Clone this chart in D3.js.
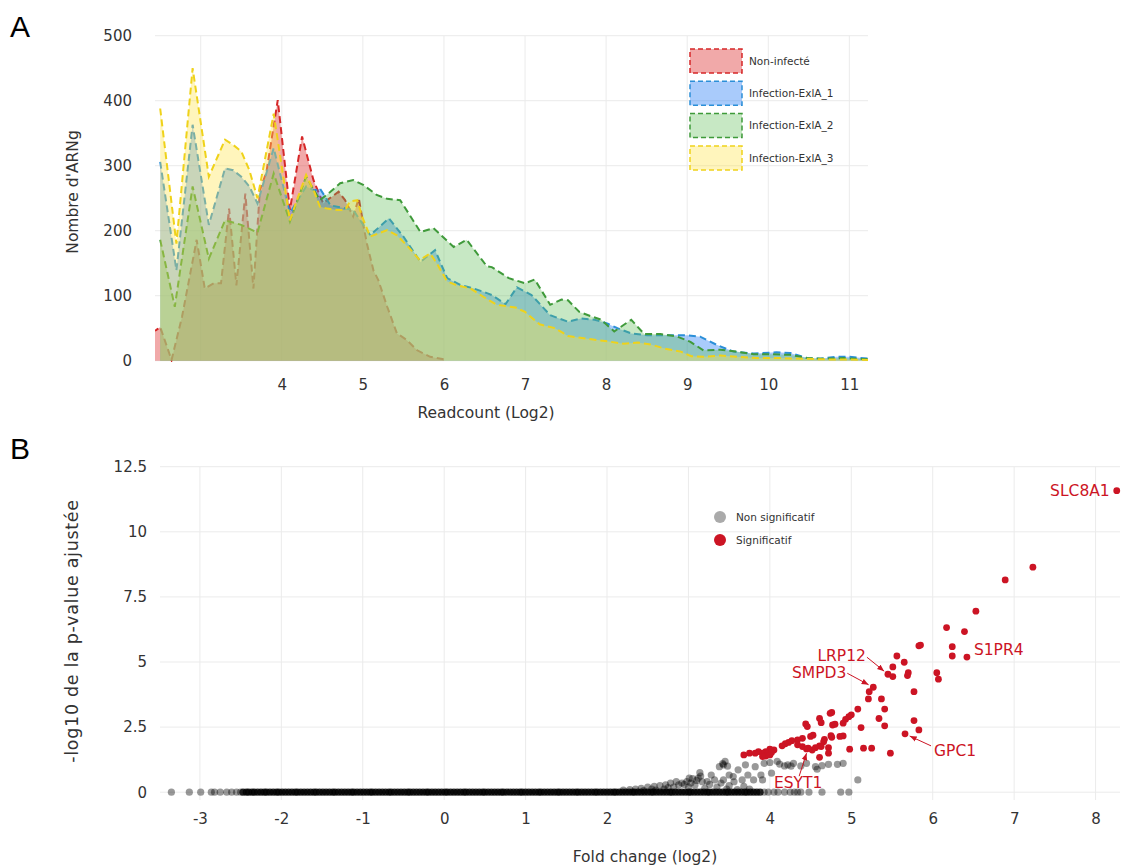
<!DOCTYPE html>
<html>
<head>
<meta charset="utf-8">
<script src="https://d3js.org/d3.v7.min.js"></script>
<style>
body { margin: 0; background: #fff; }
svg text { font-family: "DejaVu Sans", Verdana, sans-serif; fill: #333; }
</style>
</head>
<body>
<svg id="chart" width="1126" height="867"></svg>
<script>
// ---- panel A : distribution of read counts (log2) ----
var readGrid = [3, 4, 5, 6, 7, 8, 9, 10, 11];
var readTicks = [4, 5, 6, 7, 8, 9, 10, 11];
var countTicks = [0, 100, 200, 300, 400, 500];
var sampleNames = ["Non-infecté", "Infection-ExlA_1", "Infection-ExlA_2", "Infection-ExlA_3"];

var nonInfecte = [[2.40,45],[2.45,47],[2.50,52],[2.64,1],[2.77,68],[2.95,186],[3.05,111],[3.16,119],[3.25,119],
  [3.35,234],[3.44,116],[3.55,257],[3.65,111],[3.73,263],[3.81,290],[3.95,401],[4.10,232],[4.25,345],[4.39,278],
  [4.51,242],[4.56,247],[4.70,260],[4.78,247],[4.88,222],[4.95,250],[5.01,206],[5.05,180],[5.13,139],[5.19,124],
  [5.30,83],[5.42,42],[5.54,32],[5.67,16],[5.83,6],[6.0,2]];

var exla1 = [[2.50,306],[2.70,139],[2.90,363],[3.10,209],[3.30,296],[3.40,293],[3.50,283],[3.60,268],[3.70,242],
  [3.90,327],[4.10,227],[4.30,268],[4.40,262],[4.47,265],[4.60,239],[4.88,232],[5.09,193],[5.32,219],[5.50,191],
  [5.71,152],[5.89,170],[6.04,127],[6.21,116],[6.37,111],[6.53,104],[6.59,101],[6.76,87],[6.90,113],[7.08,101],
  [7.31,70],[7.53,60],[7.69,65],[7.86,63],[8.02,57],[8.14,50],[8.31,42],[8.51,39],[8.80,39],[9.0,39],[9.16,37],
  [9.37,24],[9.57,14],[9.82,11],[10.1,13],[10.27,12],[10.48,4],[10.64,3],[10.84,6],[11.0,6],[11.25,3]];

var exla2 = [[2.50,186],[2.68,83],[2.90,268],[3.10,157],[3.30,216],[3.50,209],[3.70,197],[3.90,288],[4.10,214],
  [4.30,283],[4.47,247],[4.60,260],[4.72,273],[4.88,278],[5.01,270],[5.17,255],[5.30,249],[5.46,247],[5.71,198],
  [5.87,204],[6.12,175],[6.28,186],[6.53,145],[6.59,144],[6.80,127],[7.0,119],[7.12,125],[7.31,86],[7.45,94],
  [7.53,93],[7.67,75],[7.82,68],[7.94,63],[8.10,45],[8.31,63],[8.47,41],[8.67,41],[8.88,37],[9.04,29],[9.2,16],
  [9.41,17],[9.61,14],[9.82,10],[10.02,10],[10.27,9],[10.48,4],[10.68,3],[10.93,4],[11.25,2]];

var exla3 = [[2.50,388],[2.70,180],[2.90,450],[3.10,283],[3.30,340],[3.40,332],[3.50,322],[3.60,293],[3.70,250],
  [3.90,380],[4.10,216],[4.20,252],[4.30,286],[4.40,260],[4.47,237],[4.56,234],[4.68,232],[4.78,232],[4.84,245],
  [4.93,247],[4.99,222],[5.09,191],[5.30,201],[5.42,193],[5.56,175],[5.70,155],[5.83,165],[5.91,150],[6.04,122],
  [6.16,116],[6.33,111],[6.49,98],[6.65,86],[6.88,82],[7.0,75],[7.18,56],[7.37,50],[7.53,38],[7.82,33],[8.06,29],
  [8.22,26],[8.39,28],[8.55,25],[8.71,19],[8.92,14],[9.05,7],[9.2,6],[9.41,8],[9.61,6],[9.86,4],[10.15,4],
  [10.43,3],[10.72,2],[11.0,2],[11.25,1]];

// ---- panel B : volcano plot ----
var fcGrid = [-3, -2, -1, 0, 1, 2, 3, 4, 5, 6, 7, 8];
var pTicks = [0, 2.5, 5, 7.5, 10, 12.5];
var legendB = ["Non significatif", "Significatif"];

// genes sitting on the baseline (p-value ~ 1)
var baseFC = [-2.47,-2.43,-2.40,-2.36,-2.33,-2.29,-2.25,-2.21,-2.18,-2.14,-2.10,-2.06,-2.03,-1.99,-1.95,-1.91,
  -1.87,-1.83,-1.80,-1.76,-1.72,-1.68,-1.64,-1.60,-1.57,-1.53,-1.49,-1.45,-1.41,-1.37,-1.34,-1.30,-1.26,-1.22,
  -1.18,-1.14,-1.11,-1.07,-1.03,-0.99,-0.95,-0.91,-0.88,-0.84,-0.80,-0.76,-0.72,-0.68,-0.65,-0.61,-0.57,-0.53,
  -0.49,-0.45,-0.42,-0.38,-0.34,-0.30,-0.26,-0.22,-0.19,-0.15,-0.11,-0.07,-0.03,0.01,0.04,0.08,0.12,0.16,0.20,
  0.24,0.27,0.31,0.35,0.39,0.43,0.47,0.50,0.54,0.58,0.62,0.66,0.70,0.73,0.77,0.81,0.85,0.89,0.93,0.96,1.00,1.04,
  1.08,1.12,1.16,1.19,1.23,1.27,1.31,1.35,1.39,1.42,1.46,1.50,1.54,1.58,1.62,1.65,1.69,1.73,1.77,1.81,1.85,1.88,
  1.92,1.96,2.00,2.04,2.08,2.11,2.15,2.19,2.23,2.27,2.31,2.34,2.38,2.42,2.46,2.50,2.54,2.57,2.61,2.65,2.69,2.73,
  2.77,2.80,2.84,2.88,2.92,2.96,3.00,3.03,3.07,3.11,3.15,3.19,3.23,3.26,3.30,3.34,3.38,3.42,3.46,3.49,3.53,3.57,
  3.61,3.65,3.69,3.72,3.76,3.80,3.84,3.88];

// other non significant genes [fold change, -log10 padj]
var nonSig = [[-3.35,0],[-3.13,0],[-2.99,0],[-2.86,0],[-2.82,0],[-2.75,0],[-2.67,0],[-2.61,0],[-2.55,0],[-2.50,0],
  [3.93,0],[3.98,0],[4.05,0],[4.10,0],[4.18,0],[4.25,0],[4.30,0],[4.34,0],[4.38,0],[4.48,0],[4.64,0],[4.87,0],[4.97,0],
  [5.08,0.47],[4.90,1.11],[4.83,1.07],[4.72,1.07],[4.58,0.88],[4.45,1.11],[4.38,1.01],[4.29,1.11],[4.22,1.05],
  [4.18,1.01],[4.09,1.18],[4.00,1.14],[3.93,1.11],[4.02,0.73],[3.91,0.47],[3.89,0.66],[3.80,0.47],[3.82,0.98],
  [3.73,0.66],[3.66,0.47],[3.61,0.86],[3.70,1.05],[3.55,0.60],[3.50,0.66],[3.43,0.47],[3.43,1.05],[3.45,1.18],
  [3.38,0.98],[3.32,0.47],[3.28,0.66],[3.23,0.41],[3.14,0.75],[3.12,0.54],[3.01,0.54],[2.98,0.41],[3.03,0.35],
  [2.92,0.35],[2.85,0.41],[2.78,0.35],[2.72,0.28],[2.65,0.25],[2.58,0.22],[2.50,0.20],[2.42,0.15],[2.35,0.12],
  [2.28,0.10],[2.20,0.08],[3.10,0.45],[3.05,0.52],[2.95,0.30],[2.88,0.28],[3.35,0.20],[3.50,0.25],[3.60,0.10],
  [3.20,0.15],[2.70,0.12],[2.60,0.08],[3.00,0.20],[3.15,0.62],[3.17,0.40],[3.08,0.28],[2.82,0.20],[2.75,0.18],
  [2.55,0.12],[2.45,0.06],[3.26,0.30],[3.40,0.35],[3.47,0.12],[3.56,0.40],[3.68,0.22],[3.75,0.12],[3.42,1.10],
  [3.48,1.00],[4.12,1.08],[4.26,1.00],[4.56,0.98],[4.64,1.02]];

var sig = [[8.26,11.58],[7.23,8.64],[6.89,8.15],[6.53,6.95],[6.17,6.32],[6.39,6.17],[5.83,5.62],[5.85,5.65],
  [6.24,5.59],[6.24,5.23],[6.42,5.19],[5.56,5.23],[5.65,4.99],[5.51,4.81],[5.45,4.53],[5.51,4.44],[5.70,4.59],
  [5.69,4.48],[6.05,4.59],[6.07,4.34],[5.77,3.86],[5.27,4.03],[5.22,3.86],[5.21,3.58],[5.37,3.58],[5.41,3.19],
  [5.34,2.83],[5.41,2.55],[5.77,2.75],[5.83,2.39],[5.66,2.24],[5.48,1.50],[5.08,3.19],[5.00,2.97],[4.97,2.90],
  [4.93,2.80],[4.90,2.65],[4.74,3.03],[4.76,3.06],[4.61,2.83],[4.63,2.67],[4.77,2.58],[4.80,2.61],[4.44,2.62],
  [4.46,2.52],[5.12,2.48],[4.90,2.16],[4.86,2.14],[4.75,2.17],[4.76,2.11],[4.53,2.19],[4.50,2.14],[4.67,2.03],
  [4.66,1.94],[4.61,1.78],[4.63,1.75],[4.72,1.71],[4.98,1.65],[5.15,1.69],[5.25,1.69],[4.72,1.50],[4.61,1.34],
  [4.40,2.07],[4.34,2.01],[4.27,1.98],[4.23,1.91],[4.19,1.86],[4.15,1.78],[4.34,1.82],[4.40,1.75],[4.45,1.66],
  [4.52,1.62],[4.56,1.71],[4.47,1.69],[4.05,1.62],[4.00,1.65],[3.95,1.56],[3.91,1.50],[3.86,1.56],[3.82,1.50],
  [3.75,1.50],[3.68,1.43],[3.95,1.39],[4.00,1.43],[3.91,1.37],[4.02,1.52]];

var labelGenes = ["SLC8A1", "S1PR4", "LRP12", "SMPD3", "GPC1", "ESYT1"];
var labelFC = [8.26, 6.42, 5.45, 5.27, 5.66, 4.47];
var labelP = [11.58, 5.19, 4.53, 4.03, 2.24, 1.69];

var svg = d3.select('#chart');
var fillCols = ['rgba(220,40,40,0.4)', 'rgba(40,125,245,0.4)', 'rgba(95,190,85,0.35)', 'rgba(255,230,80,0.38)'];
var lineCols = ['#d62728', '#2b8fd8', '#3f9a3a', '#efd21a'];
var red = '#cc1424';

svg.append('defs').append('clipPath').attr('id', 'clipA')
    .append('rect').attr('x', 155).attr('y', 30).attr('width', 713).attr('height', 332);

/* ---------- panel A ---------- */
var xA = d3.scaleLinear().domain([2.436, 11.23]).range([155, 868]);
var yA = d3.scaleLinear().domain([0, 500]).range([360.7, 35.7]);

var gA = svg.append('g');
gA.append('g').selectAll('line').data(readGrid).enter().append('line')
    .attr('x1', function(d) { return xA(d); }).attr('x2', function(d) { return xA(d); })
    .attr('y1', yA(500)).attr('y2', yA(0))
    .attr('stroke', '#ebebeb');
gA.append('g').selectAll('line').data(countTicks).enter().append('line')
    .attr('x1', 155).attr('x2', 868)
    .attr('y1', function(d) { return yA(d); }).attr('y2', function(d) { return yA(d); })
    .attr('stroke', '#ebebeb');

var area = d3.area().x(function(d) { return xA(d[0]); }).y0(yA(0)).y1(function(d) { return yA(d[1]); });
var line = d3.line().x(function(d) { return xA(d[0]); }).y(function(d) { return yA(d[1]); });
var series = [nonInfecte, exla1, exla2, exla3];
var plotA = gA.append('g').attr('clip-path', 'url(#clipA)');
series.forEach(function(s, i) {
    plotA.append('path').attr('d', area(s)).attr('fill', fillCols[i]);
    plotA.append('path').attr('d', line(s)).attr('fill', 'none')
        .attr('stroke', lineCols[i]).attr('stroke-width', 2).attr('stroke-dasharray', '7,4');
});

var axA = gA.append('g').attr('transform', 'translate(0,' + yA(0) + ')')
    .call(d3.axisBottom(xA).tickValues(readTicks).tickSize(0).tickPadding(19).tickFormat(function(d) { return d; }));
var ayA = gA.append('g').attr('transform', 'translate(155,0)')
    .call(d3.axisLeft(yA).tickValues(countTicks).tickSize(0).tickPadding(23));
[axA, ayA].forEach(function(a) {
    a.select('.domain').remove();
    a.selectAll('text').style('font-size', '15px').attr('fill', '#333');
});

gA.append('text').attr('x', 486).attr('y', 418).attr('text-anchor', 'middle')
    .style('font-size', '15.5px').text('Readcount (Log2)');
gA.append('text').attr('transform', 'translate(78,192) rotate(-90)').attr('text-anchor', 'middle')
    .style('font-size', '15.5px').text("Nombre d'ARNg");

// legend A
var legA = gA.append('g').selectAll('g').data(sampleNames).enter().append('g')
    .attr('transform', function(d, i) { return 'translate(690,' + (49 + i * 32.3) + ')'; });
legA.append('rect').attr('width', 52).attr('height', 24)
    .attr('fill', function(d, i) { return fillCols[i]; })
    .attr('stroke', function(d, i) { return lineCols[i]; })
    .attr('stroke-width', 1.5).attr('stroke-dasharray', '5,3');
legA.append('text').attr('x', 59).attr('y', 12).attr('dy', '0.35em')
    .style('font-size', '10.5px').text(function(d) { return d; });

/* ---------- panel B ---------- */
var xB = d3.scaleLinear().domain([-3.49, 8.3]).range([160, 1120]);
var yB = d3.scaleLinear().domain([-0.3, 12.5]).range([800, 466.7]);

var gB = svg.append('g');
gB.append('g').selectAll('line').data(fcGrid).enter().append('line')
    .attr('x1', function(d) { return xB(d); }).attr('x2', function(d) { return xB(d); })
    .attr('y1', yB(12.5)).attr('y2', 800)
    .attr('stroke', '#ebebeb');
gB.append('g').selectAll('line').data(pTicks).enter().append('line')
    .attr('x1', 160).attr('x2', 1120)
    .attr('y1', function(d) { return yB(d); }).attr('y2', function(d) { return yB(d); })
    .attr('stroke', '#ebebeb');

gB.append('g').selectAll('circle').data(baseFC).enter().append('circle')
    .attr('cx', function(d) { return xB(d); }).attr('cy', yB(0)).attr('r', 3.6)
    .attr('fill', '#000').attr('fill-opacity', 0.8);
gB.append('g').selectAll('circle').data(nonSig).enter().append('circle')
    .attr('cx', function(d) { return xB(d[0]); }).attr('cy', function(d) { return yB(d[1]); }).attr('r', 3.6)
    .attr('fill', '#000').attr('fill-opacity', 0.4);
gB.append('g').selectAll('circle').data(sig).enter().append('circle')
    .attr('cx', function(d) { return xB(d[0]); }).attr('cy', function(d) { return yB(d[1]); }).attr('r', 3.4)
    .attr('fill', red);

var axB = gB.append('g').attr('transform', 'translate(0,800)')
    .call(d3.axisBottom(xB).tickValues(fcGrid).tickSize(0).tickPadding(13).tickFormat(function(d) { return String(d); }));
var ayB = gB.append('g').attr('transform', 'translate(160,0)')
    .call(d3.axisLeft(yB).tickValues(pTicks).tickSize(0).tickPadding(13).tickFormat(function(d) { return String(d); }));
[axB, ayB].forEach(function(a) {
    a.select('.domain').remove();
    a.selectAll('text').style('font-size', '15px').attr('fill', '#333');
});

gB.append('text').attr('x', 645).attr('y', 862).attr('text-anchor', 'middle')
    .style('font-size', '15.5px').text('Fold change (log2)');
gB.append('text').attr('transform', 'translate(78,631) rotate(-90)').attr('text-anchor', 'middle')
    .style('font-size', '17.5px').style('letter-spacing', '0.7px').text('-log10 de la p-value ajustée');

// legend B
var legB = gB.append('g').selectAll('g').data(legendB).enter().append('g')
    .attr('transform', function(d, i) { return 'translate(720,' + (517 + i * 23) + ')'; });
legB.append('circle').attr('r', 6).attr('fill', function(d, i) { return i ? red : '#aaaaaa'; });
legB.append('text').attr('x', 16).attr('dy', '0.35em').style('font-size', '10.5px').text(function(d) { return d; });

// gene annotations: text offset and arrow tail relative to the point (pixels)
var annot = {
    SLC8A1: { tx: -7, ty: 0, anchor: 'end' },
    S1PR4: { tx: 7, ty: -7, anchor: 'start' },
    LRP12: { tx: -22, ty: -19, anchor: 'end', ax: -21, ay: -17 },
    SMPD3: { tx: -27, ty: -15, anchor: 'end', ax: -26, ay: -14 },
    GPC1: { tx: 29, ty: 17, anchor: 'start', ax: 26, ay: 12 },
    ESYT1: { tx: -10, ty: 34, anchor: 'middle', ax: -9, ay: 28 }
};
gB.append('defs').append('marker').attr('id', 'arrow')
    .attr('viewBox', '0 -5 10 10').attr('refX', 10).attr('refY', 0)
    .attr('markerWidth', 7).attr('markerHeight', 7).attr('orient', 'auto')
    .append('path').attr('d', 'M0,-4L10,0L0,4Z').attr('fill', red);

labelGenes.forEach(function(g, i) {
    var px = xB(labelFC[i]), py = yB(labelP[i]), a = annot[g];
    if (a.ax !== undefined) {
        gB.append('line').attr('x1', px + a.ax).attr('y1', py + a.ay)
            .attr('x2', px + a.ax * 0.18).attr('y2', py + a.ay * 0.18)
            .attr('stroke', red).attr('stroke-width', 1).attr('marker-end', 'url(#arrow)');
    }
    gB.append('text').attr('x', px + a.tx).attr('y', py + a.ty).attr('dy', '0.35em')
        .attr('text-anchor', a.anchor).style('font-size', '15.5px').style('fill', red).text(g);
});

// panel letters
svg.append('text').attr('x', 10).attr('y', 37).style('font-size', '30px').style('fill', '#000')
    .style('font-family', 'Arial, "Liberation Sans", sans-serif').text('A');
svg.append('text').attr('x', 10).attr('y', 459).style('font-size', '30px').style('fill', '#000')
    .style('font-family', 'Arial, "Liberation Sans", sans-serif').text('B');
</script>
</body>
</html>
